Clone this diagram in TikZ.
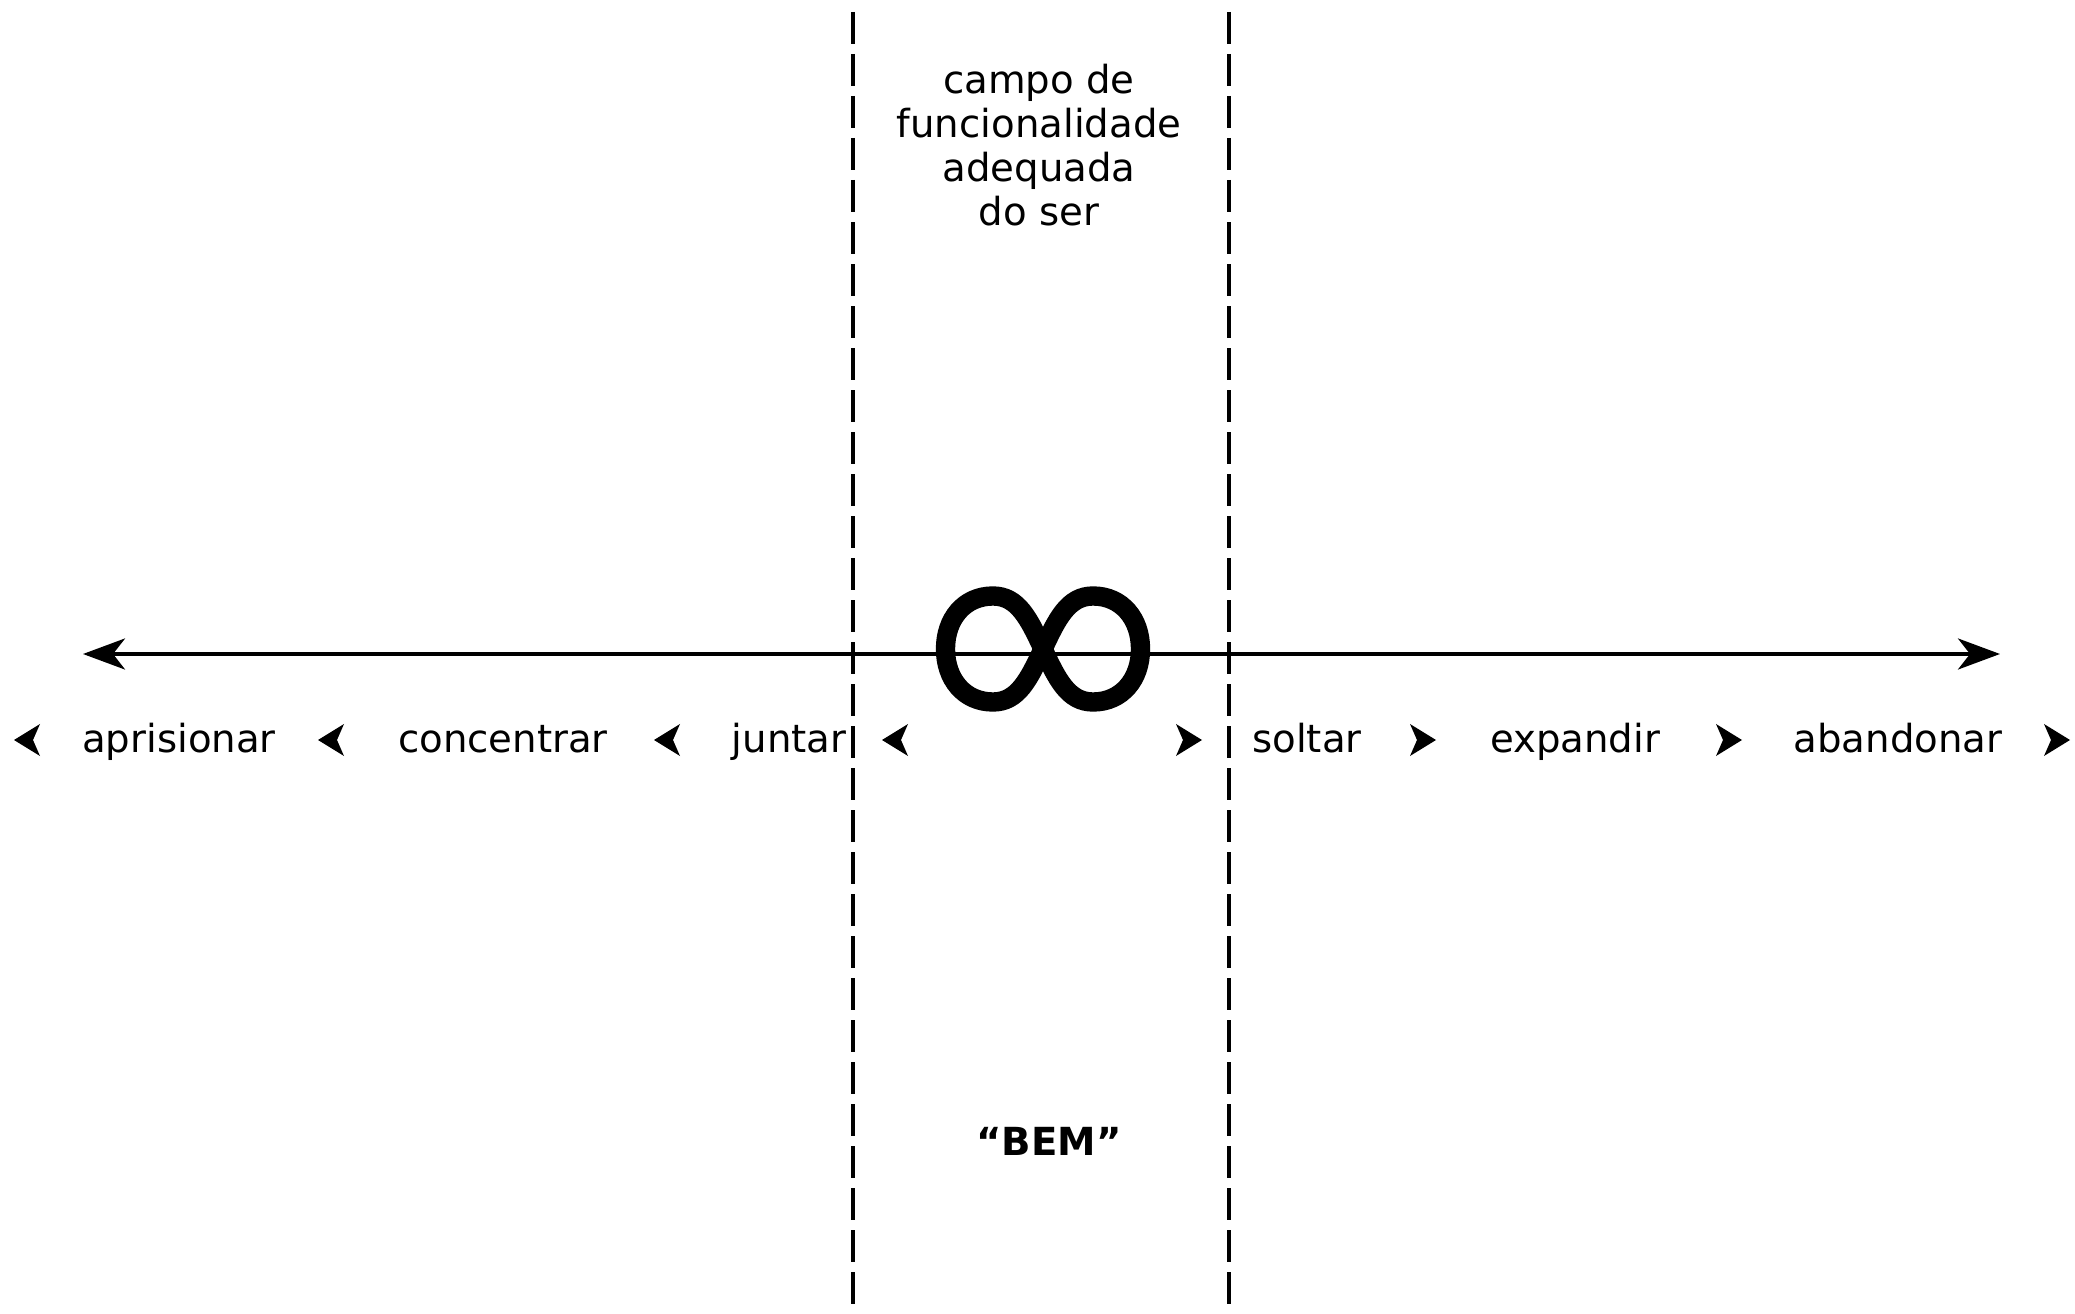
\documentclass[tikz,border=0pt]{standalone}
\usepackage{fontspec}
\setmainfont{DejaVu Sans}
\usetikzlibrary{arrows.meta, positioning}

\begin{document}
\begin{tikzpicture}[
    rotulo/.style={font=\fontsize{11}{12.5}\selectfont, inner sep=0pt, anchor=base},
    limite/.style={dash pattern=on 0.32cm off 0.1cm, line width=0.9pt},
    eixo/.style={{Stealth[length=0.42cm, width=0.31cm, inset=0.12cm]}-{Stealth[length=0.42cm, width=0.31cm, inset=0.12cm]},
                 line width=1.1pt},
    chevesq/.pic={\fill (-0.13,0) -- (0.13,0.16) -- (0.06,0) -- (0.13,-0.16) -- cycle;},
    chevdir/.pic={\fill (0.13,0) -- (-0.13,0.16) -- (-0.06,0) -- (-0.13,-0.16) -- cycle;}
  ]
    \useasboundingbox (0,0) rectangle (20.75,-13.14);

    % campo central
    \coordinate (lim1a) at (8.53,-0.12);
    \coordinate (lim1b) at (8.53,-13.14);
    \coordinate (lim2a) at (12.29,-0.12);
    \coordinate (lim2b) at (12.29,-13.14);
    \draw[limite] (lim1a) -- (lim1b);
    \draw[limite] (lim2a) -- (lim2b);

    \node[rotulo, anchor=center, align=center] (campo) at (10.39,-1.45)
      {campo de\\funcionalidade\\adequada\\do ser};
    \node[rotulo, anchor=center, font=\fontsize{11}{12.5}\selectfont\bfseries] (bem) at (10.49,-11.41) {“BEM”};

    % eixo
    \coordinate (esq) at (0.83,-6.54);
    \coordinate (dir) at (20.0,-6.54);
    \draw[eixo] (esq) -- (dir);

    \coordinate (infinito) at (10.43,-6.49);
    \begin{scope}[shift={(infinito)}]
      \draw[line width=5.5pt] (0,0) .. controls (0.14,0.3) and (0.25,0.53) .. (0.5,0.53)
        .. controls (0.79,0.53) and (0.975,0.3) .. (0.975,0)
        .. controls (0.975,-0.3) and (0.79,-0.53) .. (0.5,-0.53)
        .. controls (0.25,-0.53) and (0.14,-0.3) .. (0,0)
        .. controls (-0.14,0.3) and (-0.25,0.53) .. (-0.5,0.53)
        .. controls (-0.79,0.53) and (-0.975,0.3) .. (-0.975,0)
        .. controls (-0.975,-0.3) and (-0.79,-0.53) .. (-0.5,-0.53)
        .. controls (-0.25,-0.53) and (-0.14,-0.3) .. (0,0) -- cycle;
    \end{scope}

    % rotulos
    \node[rotulo] (aprisionar) at (1.79,-7.52) {aprisionar};
    \node[rotulo] (concentrar) at (5.03,-7.52) {concentrar};
    \node[rotulo] (juntar) at (7.89,-7.52) {juntar};
    \node[rotulo] (soltar) at (13.07,-7.52) {soltar};
    \node[rotulo] (expandir) at (15.75,-7.52) {expandir};
    \node[rotulo] (abandonar) at (18.98,-7.52) {abandonar};

    \foreach \x in {0.27, 3.31, 6.67, 8.95}
      \pic at (\x,-7.40) {chevesq};
    \foreach \x in {11.89, 14.23, 17.29, 20.57}
      \pic at (\x,-7.40) {chevdir};
\end{tikzpicture}
\end{document}
